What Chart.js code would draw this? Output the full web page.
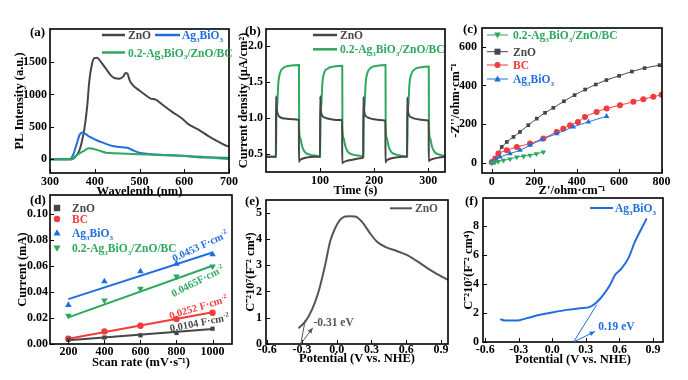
<!DOCTYPE html>
<html><head><meta charset="utf-8">
<script src="https://cdn.jsdelivr.net/npm/chart.js@4.4.1/dist/chart.umd.min.js"></script>
<style>
html,body{margin:0;padding:0;background:#fff;}
#wrap{position:relative;width:688px;height:380px;overflow:hidden;background:#fff;}
canvas{position:absolute;}
</style></head><body><div id="wrap">
<canvas id="ca" width="240" height="200" style="left:0px;top:0px;width:240px;height:200px"></canvas>
<canvas id="cb" width="230" height="200" style="left:230px;top:0px;width:230px;height:200px"></canvas>
<canvas id="cc" width="248" height="200" style="left:440px;top:0px;width:248px;height:200px"></canvas>
<canvas id="cd" width="240" height="195" style="left:0px;top:185px;width:240px;height:195px"></canvas>
<canvas id="ce" width="230" height="195" style="left:230px;top:185px;width:230px;height:195px"></canvas>
<canvas id="cf" width="248" height="195" style="left:440px;top:185px;width:248px;height:195px"></canvas>
</div>
<script>
// ---------- (a) PL spectra ----------
const plWl_ZnO = [300,348,357,366,372,377,383,388,394,399,405,414,425,436,444,455,464,469,473,478,484,499,514,525,536,550,573,595,609,631,654,676,690,700];
const plInt_ZnO = [0,0,41,143,297,476,809,1219,1475,1562,1567,1500,1398,1295,1254,1244,1280,1331,1321,1219,1152,1065,988,937,922,850,732,630,543,461,358,271,220,195];
const plWl_Ag = [300,344,353,360,366,372,380,388,403,418,440,462,473,484,499,521,558,602,631,668,700];
const plInt_Ag = [0,0,92,246,374,415,389,348,297,256,205,184,179,143,102,82,67,51,31,26,20];
const plWl_Comp = [300,348,355,366,377,385,396,410,425,447,484,521,558,602,631,668,700];
const plInt_Comp = [0,0,41,92,133,169,164,133,102,92,82,72,61,51,41,20,5];
const ticksA_x = [300,400,500,600,700];
const ticksA_y = [0,500,1000,1500];

// ---------- (b) photocurrent ----------
const tB_ZnO = [0,18.3,18.6,20,22,26,35,50,60.8,61,62,66,75,90,
 100,100.3,101.5,104,110,120,130,140.8,141,142,148,160,175,
 179.8,180.1,181.5,184,190,200,210,220.8,221,222,228,240,255,
 261,261.3,262.5,265,271,281,291,300.8,301,302,308,320,331];
const jB_ZnO = [0.46,0.46,1.30,1.12,1.05,1.01,0.99,0.98,0.97,0.39,0.41,0.43,0.45,0.46,
 0.46,1.30,1.10,1.03,1.0,0.98,0.97,0.97,0.37,0.38,0.40,0.42,0.44,
 0.45,1.29,1.10,1.03,1.0,0.98,0.97,0.96,0.38,0.40,0.43,0.45,0.46,
 0.46,1.28,1.10,1.03,1.0,0.98,0.97,0.96,0.40,0.41,0.43,0.45,0.46];
const tB_Comp = [0,18.5,19,21,22.8,25.9,32,44,61,61.3,63.3,67,71.5,81,96,
 100,100.5,102.5,104.3,107.4,113.5,126,141,141.3,143.3,147,151.5,161,176,
 180,180.5,182.5,184.3,187.4,193.5,206,221,221.3,223.3,227,231.5,241,256,
 261,261.5,263.5,265.3,268.4,274.5,287,301,301.3,303.3,307,311.5,321,331];
const jB_Comp = [0.46,0.46,0.9,1.2,1.48,1.62,1.69,1.72,1.73,0.88,0.72,0.6,0.53,0.49,0.47,
 0.46,0.9,1.2,1.48,1.62,1.68,1.71,1.72,0.88,0.72,0.6,0.53,0.49,0.47,
 0.46,0.9,1.2,1.48,1.62,1.69,1.72,1.73,0.88,0.72,0.6,0.53,0.49,0.47,
 0.46,0.9,1.2,1.47,1.6,1.67,1.70,1.71,0.88,0.72,0.6,0.53,0.49,0.47];
const ticksB_x = [100,200,300];
const ticksB_y = [0.5,1.0,1.5,2.0];

// ---------- (c) Nyquist ----------
const zRe_ZnO = [0,16,31,47,71,102,133,172,212,251,290,340,390,440,490,540,600,660,720,790];
const zIm_ZnO = [0,12,47,81,107,133,159,194,228,258,284,318,350,379,405,428,450,472,490,505];
const zRe_BC = [0,16,31,71,118,180,243,306,337,369,406,439,494,541,604,667,714,761,800];
const zIm_BC = [3,21,47,64,81,99,125,159,176,194,211,237,263,280,298,315,329,341,352];
const zRe_Ag = [0,20,39,86,133,180,235,306,384,455,541];
const zIm_Ag = [0,15,29,47,64,90,119,150,185,211,240];
const zRe_Comp = [0,15,30,55,86,118,150,180,210,243];
const zIm_Comp = [-3,2,5,12,18,29,33,38,45,55];
const ticksC_x = [0,200,400,600,800];
const ticksC_y = [0,200,400,600];

// ---------- (d) double-layer capacitance ----------
const scanRate = [200,400,600,800,1000];
const cur_ZnO = [0.0033,0.0050,0.0067,0.0085,0.0118];
const cur_BC = [0.0041,0.0097,0.0141,0.0192,0.0241];
const cur_Ag = [0.0300,0.0482,0.0559,0.0618,0.0690];
const cur_Comp = [0.0218,0.0336,0.0426,0.0520,0.0597];
const fitX = [200,1000];
const fit_ZnO = [0.0028,0.0115];
const fit_BC = [0.0040,0.0245];
const fit_Ag = [0.0346,0.0705];
const fit_Comp = [0.0205,0.0603];
const cdlLabels = ['0.0453 F·cm','0.0465F·cm','0.0252 F·cm','0.0104 F·cm'];
const ticksD_x = [200,400,600,800,1000];
const ticksD_y = [0,0.02,0.04,0.06,0.08,0.10];

// ---------- (e) Mott-Schottky ZnO ----------
const ePot = [-0.33,-0.272,-0.215,-0.157,-0.10,-0.057,-0.014,0.029,0.072,0.115,0.159,0.216,0.288,0.345,0.417,0.518,0.604,0.69,0.805,0.891,0.958];
const eC = [0.60,0.85,1.29,1.99,3.0,3.9,4.4,4.72,4.85,4.86,4.85,4.66,4.21,3.9,3.7,3.54,3.39,3.16,2.82,2.6,2.44];
const eFlat = -0.31, eTanTop = [-0.272,0.91], eArrowTip = [-0.206,0.62], eLabelAt = [-0.20,0.85];
const ticksE_x = [-0.6,-0.3,0.0,0.3,0.6,0.9];
const ticksE_y = [0,1,2,3,4,5];

// ---------- (f) Mott-Schottky Ag3BiO3 ----------
const fPot = [-0.466,-0.421,-0.317,-0.228,-0.109,0.01,0.129,0.248,0.338,0.397,0.456,0.516,0.561,0.62,0.68,0.739,0.798,0.844];
const fC = [1.58,1.48,1.48,1.65,1.88,2.06,2.22,2.34,2.43,2.75,3.26,3.94,4.63,5.09,5.78,6.93,7.84,8.53];
const fFlat = 0.19, fTanTop = [0.397,2.57], fArrowTip = [0.382,0.73], fLabelAt = [0.41,1.08];
const ticksF_x = [-0.6,-0.3,0.0,0.3,0.6,0.9];
const ticksF_y = [0,2,4,6,8];

// ---------- styling ----------
const FONT = "'Liberation Serif','Times New Roman',serif";
const C_ZNO = '#464646', C_COMP = '#2ea85c', C_AG = '#1f6ee0', C_BC = '#f23b3b', C_E = '#555555';
const AG = ['Ag',['3','sub'],'BiO',['3','sub']];
const COMP = ['0.2-Ag',['3','sub'],'BiO',['3','sub'],'/ZnO/BC'];

Chart.defaults.font.family = FONT;
Chart.defaults.font.weight = 'bold';
Chart.defaults.font.size = 12;
Chart.defaults.color = '#000';
Chart.defaults.animation = false;

const pts = (xs, ys) => xs.map((x, i) => ({x, y: ys[i]}));

function rich(ctx, segs, x, y, size, color, align) {
  const parts = segs.map(s => Array.isArray(s) ? s : [s, '']);
  let w = 0;
  const m = parts.map(([t, mode]) => {
    const fs = mode ? size * 0.62 : size;
    ctx.font = 'bold ' + fs + 'px ' + FONT;
    const ww = ctx.measureText(t).width; w += ww;
    return [t, mode, fs, ww];
  });
  let cx = align === 'center' ? x - w / 2 : align === 'right' ? x - w : x;
  ctx.fillStyle = color; ctx.textBaseline = 'alphabetic'; ctx.textAlign = 'left';
  m.forEach(([t, mode, fs, ww]) => {
    ctx.font = 'bold ' + fs + 'px ' + FONT;
    const dy = mode === 'sub' ? size * 0.25 : mode === 'sup' ? -size * 0.4 : 0;
    ctx.fillText(t, cx, y + dy); cx += ww;
  });
  return w;
}
function hline(ctx, x1, x2, y, color, w) {
  ctx.strokeStyle = color; ctx.lineWidth = w; ctx.beginPath(); ctx.moveTo(x1, y); ctx.lineTo(x2, y); ctx.stroke();
}
function marker(ctx, style, x, y, r, color) {
  ctx.fillStyle = color; ctx.beginPath();
  if (style === 'rect') ctx.rect(x - r, y - r, 2 * r, 2 * r);
  else if (style === 'circle') ctx.arc(x, y, r, 0, Math.PI * 2);
  else if (style === 'tri') { ctx.moveTo(x, y - r * 1.2); ctx.lineTo(x + r * 1.1, y + r * 0.8); ctx.lineTo(x - r * 1.1, y + r * 0.8); ctx.closePath(); }
  else { ctx.moveTo(x, y + r * 1.2); ctx.lineTo(x + r * 1.1, y - r * 0.8); ctx.lineTo(x - r * 1.1, y - r * 0.8); ctx.closePath(); }
  ctx.fill();
}
function arrow(ctx, x1, y1, x2, y2, color) {
  ctx.strokeStyle = color; ctx.fillStyle = color; ctx.lineWidth = 1;
  ctx.beginPath(); ctx.moveTo(x1, y1); ctx.lineTo(x2, y2); ctx.stroke();
  const a = Math.atan2(y2 - y1, x2 - x1), s = 6;
  ctx.beginPath(); ctx.moveTo(x2, y2);
  ctx.lineTo(x2 - s * Math.cos(a - 0.4), y2 - s * Math.sin(a - 0.4));
  ctx.lineTo(x2 - s * Math.cos(a + 0.4), y2 - s * Math.sin(a + 0.4));
  ctx.closePath(); ctx.fill();
}

const OFF = {ca:[0,0], cb:[230,0], cc:[440,0], cd:[0,185], ce:[230,185], cf:[440,185]};
const EXTRA = {};

const deco = {
  id: 'deco',
  afterDatasetsDraw(chart) {
    const ctx = chart.ctx, {left, right, top, bottom} = chart.chartArea;
    const xs = chart.scales.x, ys = chart.scales.y;
    ctx.save();
    ctx.strokeStyle = '#000'; ctx.lineWidth = 1;
    xs.ticks.forEach(t => { const p = Math.round(xs.getPixelForValue(t.value)) + 0.5;
      ctx.beginPath(); ctx.moveTo(p, bottom); ctx.lineTo(p, bottom - 4); ctx.stroke(); });
    ys.ticks.forEach(t => { const p = Math.round(ys.getPixelForValue(t.value)) + 0.5;
      ctx.beginPath(); ctx.moveTo(left, p); ctx.lineTo(left + 4, p); ctx.stroke(); });
    ctx.lineWidth = 1.6; ctx.strokeRect(left, top, right - left, bottom - top);
    ctx.restore();
  },
  afterDraw(chart) {
    const id = chart.canvas.id, f = EXTRA[id];
    if (!f) return;
    const ctx = chart.ctx; ctx.save();
    ctx.translate(-OFF[id][0], -OFF[id][1]);
    f(ctx, chart);
    ctx.restore();
  }
};
Chart.register(deco);

function axis(o) {
  const horiz = o.pos === 'x';
  return {
    type: 'linear', position: horiz ? 'bottom' : 'left', min: o.min, max: o.max,
    grid: {display: false, drawTicks: false}, border: {display: false},
    afterBuildTicks(s) { s.ticks = o.ticks.map(v => ({value: v})); },
    afterFit(s) { if (horiz) s.height = o.size; else s.width = o.size; },
    ticks: {padding: o.tickPad, autoSkip: false, maxRotation: 0, color: '#000',
      font: {size: 12, weight: 'bold'}, callback: v => o.fmt(v)},
    title: {display: true, text: o.title, color: '#000', font: {size: 12.5, weight: 'bold'},
      padding: horiz ? {top: 0, bottom: o.titlePad} : {top: o.titlePad, bottom: 0}}
  };
}
function make(id, datasets, xA, yA, pad) {
  return new Chart(document.getElementById(id), {
    type: 'line', data: {datasets},
    options: {responsive: false, animation: false, layout: {padding: pad},
      plugins: {legend: {display: false}, tooltip: {enabled: false}},
      elements: {point: {radius: 0}},
      scales: {x: xA, y: yA}}
  });
}
const lineDs = (data, color, w, extra) => Object.assign({data, borderColor: color, backgroundColor: color,
  borderWidth: w, pointRadius: 0, fill: false, cubicInterpolationMode: 'monotone'}, extra || {});
const f0 = v => String(Math.round(v));
const f1 = v => v.toFixed(1);
const f2 = v => v.toFixed(2);

// ---------- extras (legends, labels, annotations) in page coordinates ----------
EXTRA.ca = (ctx) => {
  rich(ctx, ['(a)'], 30, 36, 13, '#000');
  hline(ctx, 102, 125, 35, C_ZNO, 2.5); rich(ctx, ['ZnO'], 128, 39, 11.5, C_ZNO);
  hline(ctx, 155, 180, 35, C_AG, 2.5); rich(ctx, AG, 182, 39, 11.5, C_AG);
  hline(ctx, 102, 125, 52.5, C_COMP, 2.5); rich(ctx, COMP, 128, 56.5, 11.5, C_COMP);
};
EXTRA.cb = (ctx) => {
  rich(ctx, ['(b)'], 245, 34.5, 13, '#000');
  hline(ctx, 313, 337, 35, C_ZNO, 2.5); rich(ctx, ['ZnO'], 340, 39, 11.5, C_ZNO);
  hline(ctx, 313, 337, 49.3, C_COMP, 2.5); rich(ctx, COMP, 340, 53.3, 11.5, C_COMP);
};
EXTRA.cc = (ctx) => {
  rich(ctx, ['(c)'], 463, 32.5, 13, '#000');
  const rows = [[35, 'dtri', C_COMP, COMP], [51.7, 'rect', C_ZNO, ['ZnO']], [65, 'circle', C_BC, ['BC']], [79, 'tri', C_AG, AG]];
  rows.forEach(([y, st, c, txt]) => {
    hline(ctx, 487, 508, y, c, 1); marker(ctx, st, 497.5, y, 3, c); rich(ctx, txt, 513, y + 4, 11.5, c);
  });
};
EXTRA.cd = (ctx) => {
  rich(ctx, ['(d)'], 30, 203.5, 13, '#000');
  const rows = [[208, 'rect', C_ZNO, ['ZnO']], [219, 'circle', C_BC, ['BC']], [233, 'tri', C_AG, AG], [248, 'dtri', C_COMP, COMP]];
  rows.forEach(([y, st, c, txt]) => { marker(ctx, st, 57, y, 3.2, c); rich(ctx, txt, 72, y + 4, 11.5, c); });
  const ann = [[200, 246, -25, C_AG, 0], [197.5, 281, -27, C_COMP, 1], [198.3, 307, -17, C_BC, 2], [199.5, 322.5, -11, C_ZNO, 3]];
  ann.forEach(([x, y, ang, c, i]) => {
    ctx.save(); ctx.translate(x, y); ctx.rotate(ang * Math.PI / 180);
    rich(ctx, [cdlLabels[i], ['-2', 'sup']], 0, 3.5, 10.5, c, 'center');
    ctx.restore();
  });
};
EXTRA.ce = (ctx, chart) => {
  rich(ctx, ['(e)'], 245, 204.5, 13, '#000');
  hline(ctx, 390, 412, 208.3, C_E, 2); rich(ctx, ['ZnO'], 415, 212.3, 11.5, C_E);
  const X = v => chart.scales.x.getPixelForValue(v) + 230, Y = v => chart.scales.y.getPixelForValue(v) + 185;
  ctx.strokeStyle = C_E; ctx.lineWidth = 1;
  ctx.beginPath(); ctx.moveTo(X(eFlat), Y(0)); ctx.lineTo(X(eTanTop[0]), Y(eTanTop[1])); ctx.stroke();
  arrow(ctx, X(eFlat), Y(0), X(eArrowTip[0]), Y(eArrowTip[1]), C_E);
  rich(ctx, ['-0.31 eV'], X(eLabelAt[0]), Y(eLabelAt[1]) + 4, 11.5, C_E);
};
EXTRA.cf = (ctx, chart) => {
  rich(ctx, ['(f)'], 465, 204.5, 13, '#000');
  hline(ctx, 590, 613, 208, C_AG, 2); rich(ctx, AG, 615, 212, 11.5, C_AG);
  const X = v => chart.scales.x.getPixelForValue(v) + 440, Y = v => chart.scales.y.getPixelForValue(v) + 185;
  ctx.strokeStyle = C_AG; ctx.lineWidth = 1;
  ctx.beginPath(); ctx.moveTo(X(fFlat), Y(0)); ctx.lineTo(X(fTanTop[0]), Y(fTanTop[1])); ctx.stroke();
  arrow(ctx, X(fFlat), Y(0), X(fArrowTip[0]), Y(fArrowTip[1]), C_AG);
  rich(ctx, ['0.19 eV'], X(fLabelAt[0]), Y(fLabelAt[1]) + 4, 11.5, C_AG);
};

// ---------- charts ----------
make('ca', [
  lineDs(pts(plWl_Comp, plInt_Comp), C_COMP, 2),
  lineDs(pts(plWl_Ag, plInt_Ag), C_AG, 2),
  lineDs(pts(plWl_ZnO, plInt_ZnO), C_ZNO, 2)
],
  axis({pos:'x', min:300, max:700, ticks:ticksA_x, fmt:f0, size:27, tickPad:2, title:'Wavelenth (nm)', titlePad:1}),
  axis({pos:'y', min:-212, max:2011, ticks:ticksA_y, fmt:f0, size:50, tickPad:3, title:'PL Intensity (a.u.)', titlePad:12}),
  {top:29, right:10, left:0, bottom:0});

make('cb', [
  lineDs(pts(tB_ZnO, jB_ZnO), C_ZNO, 2),
  lineDs(pts(tB_Comp, jB_Comp), C_COMP, 2)
],
  axis({pos:'x', min:0, max:331, ticks:ticksB_x, fmt:f0, size:28, tickPad:2, title:'Time (s)', titlePad:2}),
  axis({pos:'y', min:0.25, max:2.23, ticks:ticksB_y, fmt:f1, size:36, tickPad:3, title:'Current density (μA/cm²)', titlePad:6}),
  {top:29, right:15, left:0, bottom:0});

const scat = (data, color, style, rot, r) => ({data, borderColor: color, backgroundColor: color, borderWidth: 1,
  pointStyle: style, pointRotation: rot, pointRadius: r, pointBorderWidth: 0, fill: false, tension: 0.3});
make('cc', [
  scat(pts(zRe_Comp, zIm_Comp), C_COMP, 'triangle', 180, 3.2),
  scat(pts(zRe_Ag, zIm_Ag), C_AG, 'triangle', 0, 3.2),
  scat(pts(zRe_BC, zIm_BC), C_BC, 'circle', 0, 3),
  scat(pts(zRe_ZnO, zIm_ZnO), C_ZNO, 'rect', 0, 2.6)
],
  axis({pos:'x', min:-46, max:802, ticks:ticksC_x, fmt:f0, size:27, tickPad:2, title:"Z'/ohm·cm⁻¹", titlePad:2}),
  axis({pos:'y', min:-54, max:698, ticks:ticksC_y, fmt:f0, size:42, tickPad:5, title:"-Z''/ohm·cm⁻¹", titlePad:8}),
  {top:28, right:26, left:0, bottom:0});

const dots = (data, color, style, rot, r) => ({data, borderColor: color, backgroundColor: color, showLine: false,
  pointStyle: style, pointRotation: rot, pointRadius: r, pointBorderWidth: 0});
const fitLine = (data, color) => ({data, borderColor: color, borderWidth: 2, pointRadius: 0, fill: false});
make('cd', [
  dots(pts(scanRate, cur_ZnO), C_ZNO, 'rect', 0, 3),
  dots(pts(scanRate, cur_BC), C_BC, 'circle', 0, 3.2),
  dots(pts(scanRate, cur_Ag), C_AG, 'triangle', 0, 3.8),
  dots(pts(scanRate, cur_Comp), C_COMP, 'triangle', 180, 3.8),
  fitLine(pts(fitX, fit_ZnO), C_ZNO),
  fitLine(pts(fitX, fit_BC), C_BC),
  fitLine(pts(fitX, fit_Ag), C_AG),
  fitLine(pts(fitX, fit_Comp), C_COMP)
],
  axis({pos:'x', min:98, max:1108, ticks:ticksD_x, fmt:f0, size:36, tickPad:1, title:'Scan rate (mV·s⁻¹)', titlePad:10}),
  axis({pos:'y', min:0, max:0.1148, ticks:ticksD_y, fmt:f2, size:50, tickPad:2, title:'Current (mA)', titlePad:15}),
  {top:10, right:8, left:0, bottom:0});

make('ce', [lineDs(pts(ePot, eC), C_E, 2)],
  axis({pos:'x', min:-0.61, max:0.96, ticks:ticksE_x, fmt:f1, size:36, tickPad:-1, title:'Potential (V vs. NHE)', titlePad:14}),
  axis({pos:'y', min:0, max:5.48, ticks:ticksE_y, fmt:f0, size:36, tickPad:4, title:'C⁻²10⁷(F⁻² cm⁴)', titlePad:13}),
  {top:15, right:12, left:0, bottom:0});

make('cf', [lineDs(pts(fPot, fC), C_AG, 2)],
  axis({pos:'x', min:-0.62, max:0.99, ticks:ticksF_x, fmt:f1, size:38, tickPad:1, title:'Potential (V vs. NHE)', titlePad:13}),
  axis({pos:'y', min:0, max:9.95, ticks:ticksF_y, fmt:f0, size:43, tickPad:4, title:'C⁻²10⁷(F⁻² cm⁴)', titlePad:21}),
  {top:13, right:25, left:0, bottom:0});
</script>
</body></html>
